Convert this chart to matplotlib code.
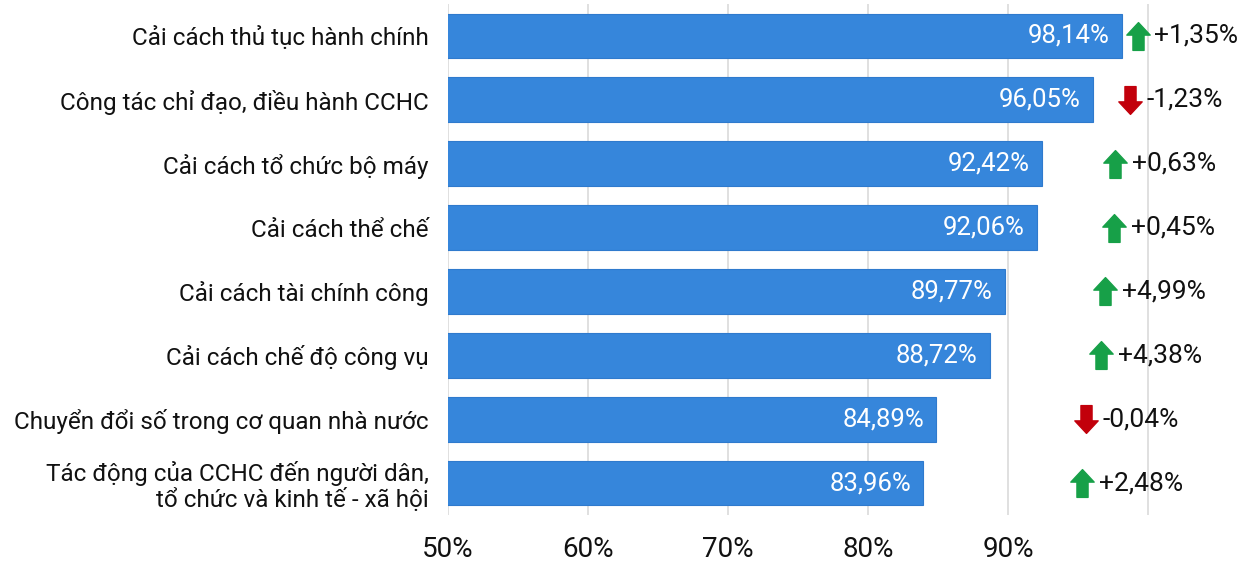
import matplotlib
matplotlib.use("Agg")
import matplotlib.pyplot as plt
from matplotlib.path import Path
import numpy as np

plt.rcParams['font.family'] = ['Roboto', 'DejaVu Sans']

# Chỉ số thành phần (%) và mức thay đổi so với năm trước
linh_vuc = [
    "Cải cách thủ tục hành chính",
    "Công tác chỉ đạo, điều hành CCHC",
    "Cải cách tổ chức bộ máy",
    "Cải cách thể chế",
    "Cải cách tài chính công",
    "Cải cách chế độ công vụ",
    "Chuyển đổi số trong cơ quan nhà nước",
    "Tác động của CCHC đến người dân,\ntổ chức và kinh tế - xã hội",
]
chi_so = [98.14, 96.05, 92.42, 92.06, 89.77, 88.72, 84.89, 83.96]
thay_doi = [1.35, -1.23, 0.63, 0.45, 4.99, 4.38, -0.04, 2.48]

tick_vals = [50, 60, 70, 80, 90, 100]
tick_labels = ["50%", "60%", "70%", "80%", "90%", ""]

BLUE = "#3686db"
BLUE_EDGE = "#2f7acd"
GREEN = "#17a048"
RED = "#c2000b"


def fmt(v, sign=False):
    s = f"{v:+.2f}" if sign else f"{v:.2f}"
    return s.replace(".", ",") + "%"


# mũi tên lên / xuống dùng làm marker
up_verts = [(-0.42, 0.05), (0.0, 0.5), (0.42, 0.05), (0.2, 0.05),
            (0.2, -0.5), (-0.2, -0.5), (-0.2, 0.05), (-0.42, 0.05)]
up_codes = [Path.MOVETO] + [Path.LINETO] * 6 + [Path.CLOSEPOLY]
arrow_up = Path(up_verts, up_codes)
arrow_down = Path([(x, -y) for x, y in up_verts], up_codes)

W, H = 1254, 563
fig = plt.figure(figsize=(W / 100, H / 100), dpi=100)
ax = fig.add_axes([448 / W, 48 / H, (W - 448) / W, 511 / H])

px_per_pct = 14.0
x_max = 50 + (W - 448) / px_per_pct
ax.set_xlim(50, x_max)
ax.set_ylim(len(linh_vuc) - 0.5, -0.5)

y = np.arange(len(linh_vuc))
ax.barh(y, chi_so, height=0.70, color=BLUE, edgecolor=BLUE_EDGE,
        linewidth=0.8, zorder=2)

ax.set_xticks(tick_vals)
ax.set_xticklabels(tick_labels, fontsize=20, color="#111111")
ax.set_yticks(y)
ax.set_yticklabels(linh_vuc, fontsize=17.5, color="#111111",
                   linespacing=1.1)
ax.tick_params(axis="x", length=0, pad=15)
ax.tick_params(axis="y", length=0, pad=14)
ax.xaxis.grid(True, color="#dadada", linewidth=1.2, zorder=0)
ax.set_axisbelow(True)
for s in ax.spines.values():
    s.set_visible(False)

# nhãn giá trị trong thanh
for i, v in enumerate(chi_so):
    ax.annotate(fmt(v), (v, i), xytext=(-9, 0), textcoords="offset points",
                ha="right", va="center", color="white", fontsize=18.5, zorder=3)

# cột mức thay đổi: lệch dần theo độ dài thanh
col_base, col_slope = 95.3, 0.28
for i, (v, d) in enumerate(zip(chi_so, thay_doi)):
    ax_x = col_base + col_slope * (v - min(chi_so))
    marker = arrow_up if d >= 0 else arrow_down
    color = GREEN if d >= 0 else RED
    ax.plot([ax_x], [i], marker=marker, markersize=20, color=color,
            linestyle="none", zorder=3, clip_on=False)
    ax.annotate(fmt(d, sign=True), (ax_x, i), xytext=(12, 0),
                textcoords="offset points", ha="left", va="center",
                color="#111111", fontsize=19, zorder=3)

fig.savefig("out.png", dpi=100, facecolor="white")
